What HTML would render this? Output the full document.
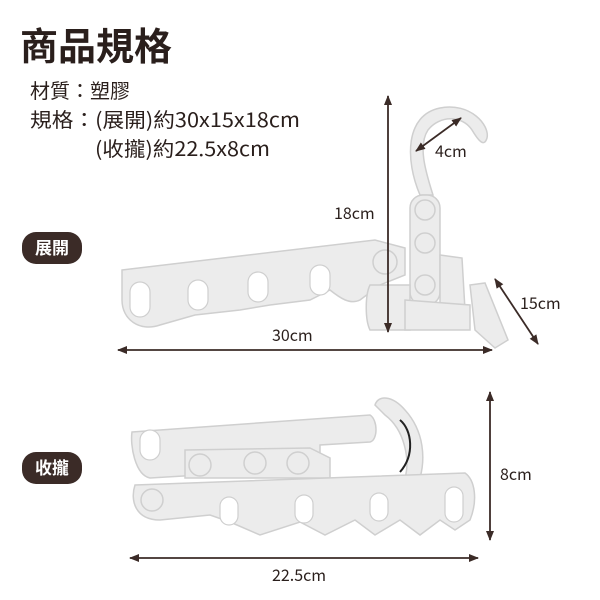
<!DOCTYPE html>
<html><head><meta charset="utf-8"><style>
html,body{margin:0;padding:0;background:#fff}
svg{display:block}
text{font-family:"Noto Sans CJK TC",sans-serif;fill:#2a1f1c}
</style></head><body>
<svg width="600" height="600" viewBox="0 0 600 600" xmlns="http://www.w3.org/2000/svg">
<defs>
<marker id="a" markerWidth="10" markerHeight="8" refX="9" refY="4" orient="auto-start-reverse" markerUnits="userSpaceOnUse"><path d="M0,0 L10,4 L0,8 Z" fill="#3b2b27"/></marker>
</defs>
<text x="20" y="60" font-size="38" font-weight="bold">商品規格</text>
<text x="30" y="98" font-size="20">材質：塑膠</text>
<text x="30" y="127" font-size="20" textLength="270" lengthAdjust="spacingAndGlyphs">規格：(展開)約30x15x18cm</text>
<text x="95" y="156" font-size="20" textLength="175" lengthAdjust="spacingAndGlyphs">(收攏)約22.5x8cm</text>
<rect x="22" y="232" width="60" height="32" rx="14" fill="#3b2b27"/>
<text x="52" y="254" font-size="17" font-weight="bold" text-anchor="middle" style="fill:#fff">展開</text>
<rect x="22" y="452" width="60" height="32" rx="14" fill="#3b2b27"/>
<text x="52" y="474" font-size="17" font-weight="bold" text-anchor="middle" style="fill:#fff">收攏</text>

<g fill="#ececec" stroke="#cfcfcf" stroke-width="1.5">
<path d="M420,195 C405,160 405,115 440,108 C470,102 490,125 487,138 C484,148 478,140 472,130 C462,115 440,115 428,130 C418,145 425,170 433,195 Z"/>
<path d="M122,270 L375,240 L405,248 L405,275 L380,285 L360,300 C350,305 340,298 330,290 L310,300 L270,305 L240,310 L195,315 L160,325 C140,332 122,320 122,300 Z"/>
<rect x="410" y="195" width="30" height="110" rx="13"/>
<path d="M440,255 L462,258 L465,310 L440,310 Z"/>
<path d="M370,285 L410,285 L410,330 L370,330 C365,320 365,295 370,285 Z"/>
<path d="M405,300 L470,305 L470,330 L405,330 Z"/>
<path d="M470,285 L485,283 L508,340 L495,348 L475,330 Z"/>
<circle cx="385" cy="262" r="12"/>
<circle cx="425" cy="210" r="10"/>
<circle cx="425" cy="243" r="10"/>
<circle cx="425" cy="285" r="10"/>
<path d="M132,432 L370,415 C378,420 378,440 370,442 L320,445 L320,470 L200,475 L150,478 C135,475 130,445 132,432 Z"/>
<path d="M185,450 L310,448 L330,458 L330,478 L185,478 Z"/>
<path d="M375,405 C378,395 392,395 405,410 C425,432 425,460 420,478 L405,478 C410,460 405,430 385,415 Z"/>
<path d="M135,485 L465,473 C475,480 478,500 470,520 L455,530 L440,520 L420,535 L400,520 L375,535 L355,520 L325,535 L300,522 L260,535 L230,522 L210,515 L160,520 C135,520 130,500 135,485 Z"/>
<circle cx="152" cy="500" r="11"/>
<circle cx="200" cy="465" r="11"/>
<circle cx="255" cy="463" r="11"/>
<circle cx="298" cy="463" r="11"/>
</g>
<g fill="#fff" stroke="#cfcfcf" stroke-width="1.2">
<rect x="130" y="282" width="20" height="35" rx="10"/>
<rect x="188" y="280" width="20" height="30" rx="10"/>
<rect x="248" y="272" width="20" height="30" rx="10"/>
<rect x="310" y="265" width="20" height="30" rx="10"/>
<rect x="140" y="430" width="20" height="30" rx="10"/>
<rect x="220" y="497" width="18" height="28" rx="9"/>
<rect x="295" y="495" width="18" height="28" rx="9"/>
<rect x="370" y="493" width="18" height="28" rx="9"/>
<rect x="445" y="487" width="18" height="35" rx="9"/>
</g>
<path d="M400,420 C412,430 415,455 400,472" fill="none" stroke="#222" stroke-width="2"/>

<g stroke="#3b2b27" stroke-width="1.8" fill="none" marker-start="url(#a)" marker-end="url(#a)">
<line x1="388" y1="96" x2="388" y2="332"/>
<line x1="118" y1="350" x2="492" y2="350"/>
<line x1="495" y1="279" x2="538" y2="344"/>
<line x1="416" y1="151" x2="461" y2="118"/>
<line x1="490" y1="392" x2="490" y2="540"/>
<line x1="130" y1="558" x2="478" y2="558"/>
</g>
<text x="334" y="219" font-size="16">18cm</text>
<text x="272" y="341" font-size="16">30cm</text>
<text x="520" y="309" font-size="16">15cm</text>
<text x="435" y="157" font-size="16">4cm</text>
<text x="500" y="480" font-size="16">8cm</text>
<text x="272" y="581" font-size="16">22.5cm</text>
</svg>
</body></html>
